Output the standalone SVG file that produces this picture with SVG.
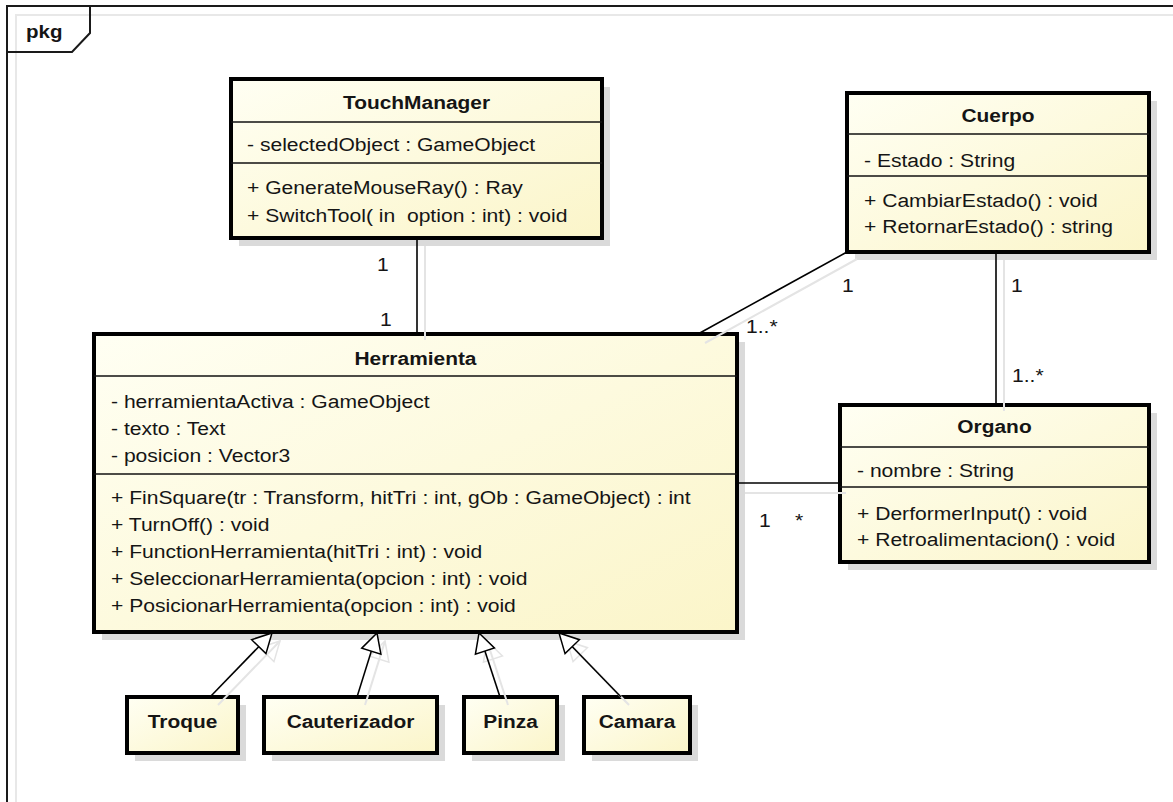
<svg xmlns="http://www.w3.org/2000/svg" width="1173" height="802" viewBox="0 0 1173 802">
  <defs>
    <linearGradient id="classFill" x1="0" y1="0" x2="1" y2="1">
      <stop offset="0" stop-color="#fffff3"/>
      <stop offset="1" stop-color="#fbf5c9"/>
    </linearGradient>
    <!-- hollow triangle for generalization -->
    <marker id="gen" viewBox="-2 -12 24 24" refX="19" refY="0" markerWidth="24" markerHeight="24" markerUnits="userSpaceOnUse" orient="auto">
      <path d="M0,-10 L19,0 L0,10 Z" fill="#fff" stroke="#000" stroke-width="1.5"/>
    </marker>
    <marker id="genShadow" viewBox="-2 -12 24 24" refX="19" refY="0" markerWidth="24" markerHeight="24" markerUnits="userSpaceOnUse" orient="auto">
      <path d="M0,-10 L19,0 L0,10 Z" fill="none" stroke="#e4e4e4" stroke-width="1.5"/>
    </marker>
    <style>
      .t { font-family: "Liberation Sans", Arial, sans-serif; font-size: 19px; fill: #151515; white-space: pre; }
      .b { font-weight: bold; }
      .c { text-anchor: middle; }
      .box { fill: url(#classFill); stroke: #000; stroke-width: 4; }
      .shadow { fill: #dadada; }
      .sep { stroke: #111; stroke-width: 1.5; }
      .conn { stroke: #000; stroke-width: 1.6; fill: none; }
      .cshadow { stroke: #e4e4e4; stroke-width: 2; fill: none; }
      .frame { fill: none; stroke: #1a1a1a; stroke-width: 2; }
      .frameShadow { fill: none; stroke: #e8e8e8; stroke-width: 2; }
    </style>
  </defs>

  <rect width="1173" height="802" fill="#fff"/>

  <!-- package frame -->
  <g id="frame">
    <rect class="frameShadow" x="16" y="15" width="1200" height="820"/>
    <rect class="frame" x="7" y="6" width="1200" height="820"/>
    <path class="frame" d="M7,52 H72 L90,33 V6"/>
    <text class="t b" transform="matrix(1.08 0 0 1 26 38)" style="font-size:19px">pkg</text>
  </g>

  <!-- TouchManager -->
  <g id="touchManager">
    <rect class="shadow" x="239" y="87" width="371" height="159"/>
    <rect class="box" x="231" y="79" width="371" height="159"/>
    <line class="sep" x1="231" y1="122" x2="602" y2="122"/>
    <line class="sep" x1="231" y1="163" x2="602" y2="163"/>
    <text class="t b c" transform="matrix(1.1 0 0 1 416.5 109)">TouchManager</text>
    <text class="t" transform="matrix(1.11 0 0 1 247 151)">- selectedObject : GameObject</text>
    <text class="t" transform="matrix(1.11 0 0 1 247 194)">+ GenerateMouseRay() : Ray</text>
    <text class="t" transform="matrix(1.11 0 0 1 247 222)">+ SwitchTool( in  option : int) : void</text>
  </g>

  <!-- Cuerpo -->
  <g id="cuerpo">
    <rect class="shadow" x="855" y="101" width="302" height="159"/>
    <rect class="box" x="847" y="93" width="302" height="159"/>
    <line class="sep" x1="847" y1="134" x2="1149" y2="134"/>
    <line class="sep" x1="847" y1="176" x2="1149" y2="176"/>
    <text class="t b c" transform="matrix(1.1 0 0 1 998 122)">Cuerpo</text>
    <text class="t" transform="matrix(1.11 0 0 1 864 167)">- Estado : String</text>
    <text class="t" transform="matrix(1.11 0 0 1 864 207)">+ CambiarEstado() : void</text>
    <text class="t" transform="matrix(1.11 0 0 1 864 233)">+ RetornarEstado() : string</text>
  </g>

  <!-- Herramienta -->
  <g id="herramienta">
    <rect class="shadow" x="102" y="342" width="643" height="298"/>
    <rect class="box" x="94" y="334" width="643" height="298"/>
    <line class="sep" x1="94" y1="376" x2="737" y2="376"/>
    <line class="sep" x1="94" y1="474" x2="737" y2="474"/>
    <text class="t b c" transform="matrix(1.1 0 0 1 415.5 365)">Herramienta</text>
    <text class="t" transform="matrix(1.11 0 0 1 111 408)">- herramientaActiva : GameObject</text>
    <text class="t" transform="matrix(1.11 0 0 1 111 435)">- texto : Text</text>
    <text class="t" transform="matrix(1.11 0 0 1 111 462)">- posicion : Vector3</text>
    <text class="t" transform="matrix(1.11 0 0 1 111 504)">+ FinSquare(tr : Transform, hitTri : int, gOb : GameObject) : int</text>
    <text class="t" transform="matrix(1.11 0 0 1 111 531)">+ TurnOff() : void</text>
    <text class="t" transform="matrix(1.11 0 0 1 111 558)">+ FunctionHerramienta(hitTri : int) : void</text>
    <text class="t" transform="matrix(1.11 0 0 1 111 585)">+ SeleccionarHerramienta(opcion : int) : void</text>
    <text class="t" transform="matrix(1.11 0 0 1 111 612)">+ PosicionarHerramienta(opcion : int) : void</text>
  </g>

  <!-- Organo -->
  <g id="organo">
    <rect class="shadow" x="848" y="413" width="309" height="157"/>
    <rect class="box" x="840" y="405" width="309" height="157"/>
    <line class="sep" x1="840" y1="447" x2="1149" y2="447"/>
    <line class="sep" x1="840" y1="487" x2="1149" y2="487"/>
    <text class="t b c" transform="matrix(1.1 0 0 1 994.5 433)">Organo</text>
    <text class="t" transform="matrix(1.11 0 0 1 857 477)">- nombre : String</text>
    <text class="t" transform="matrix(1.11 0 0 1 857 520)">+ DerformerInput() : void</text>
    <text class="t" transform="matrix(1.11 0 0 1 857 546)">+ Retroalimentacion() : void</text>
  </g>

  <!-- subclasses -->
  <g id="troque">
    <rect class="shadow" x="135" y="705" width="111" height="56"/>
    <rect class="box" x="127" y="697" width="111" height="56"/>
    <text class="t b c" transform="matrix(1.1 0 0 1 182.5 728)">Troque</text>
  </g>
  <g id="cauterizador">
    <rect class="shadow" x="272" y="705" width="173" height="56"/>
    <rect class="box" x="264" y="697" width="173" height="56"/>
    <text class="t b c" transform="matrix(1.1 0 0 1 350.5 728)">Cauterizador</text>
  </g>
  <g id="pinza">
    <rect class="shadow" x="472" y="705" width="93" height="56"/>
    <rect class="box" x="464" y="697" width="93" height="56"/>
    <text class="t b c" transform="matrix(1.1 0 0 1 510.5 728)">Pinza</text>
  </g>
  <g id="camara">
    <rect class="shadow" x="592" y="705" width="106" height="56"/>
    <rect class="box" x="584" y="697" width="106" height="56"/>
    <text class="t b c" transform="matrix(1.1 0 0 1 637 728)">Camara</text>
  </g>

  <!-- connectors -->
  <g id="connectors">
    <!-- soft offset shadows -->
    <line class="cshadow" x1="425" y1="246" x2="425" y2="340"/>
    <line class="cshadow" x1="857" y1="259" x2="705" y2="343"/>
    <line class="cshadow" x1="1004" y1="260" x2="1004" y2="411"/>
    <line class="cshadow" x1="745" y1="493" x2="846" y2="493"/>
    <line class="cshadow" x1="218" y1="705" x2="280" y2="641" marker-end="url(#genShadow)"/>
    <line class="cshadow" x1="365" y1="705" x2="385" y2="641" marker-end="url(#genShadow)"/>
    <line class="cshadow" x1="508" y1="705" x2="487" y2="641" marker-end="url(#genShadow)"/>
    <line class="cshadow" x1="629" y1="705" x2="567" y2="641" marker-end="url(#genShadow)"/>

    <!-- associations -->
    <line class="conn" x1="417" y1="238" x2="417" y2="334"/>
    <line class="conn" x1="847" y1="252" x2="698" y2="334"/>
    <line class="conn" x1="996" y1="252" x2="996" y2="405"/>
    <line class="conn" x1="737" y1="483" x2="840" y2="483"/>

    <!-- generalizations -->
    <line class="conn" x1="210" y1="697" x2="272" y2="633" marker-end="url(#gen)"/>
    <line class="conn" x1="357" y1="697" x2="377" y2="633" marker-end="url(#gen)"/>
    <line class="conn" x1="500" y1="697" x2="479" y2="633" marker-end="url(#gen)"/>
    <line class="conn" x1="621" y1="697" x2="559" y2="633" marker-end="url(#gen)"/>

    <!-- multiplicities -->
    <text class="t" transform="matrix(1.11 0 0 1 377 271)">1</text>
    <text class="t" transform="matrix(1.11 0 0 1 380 326)">1</text>
    <text class="t" transform="matrix(1.11 0 0 1 842 292)">1</text>
    <text class="t" transform="matrix(1.11 0 0 1 746 333)">1..*</text>
    <text class="t" transform="matrix(1.11 0 0 1 1011 292)">1</text>
    <text class="t" transform="matrix(1.11 0 0 1 1012 382)">1..*</text>
    <text class="t" transform="matrix(1.11 0 0 1 759 527)">1</text>
    <text class="t" transform="matrix(1.11 0 0 1 795 527)">*</text>
  </g>
</svg>
